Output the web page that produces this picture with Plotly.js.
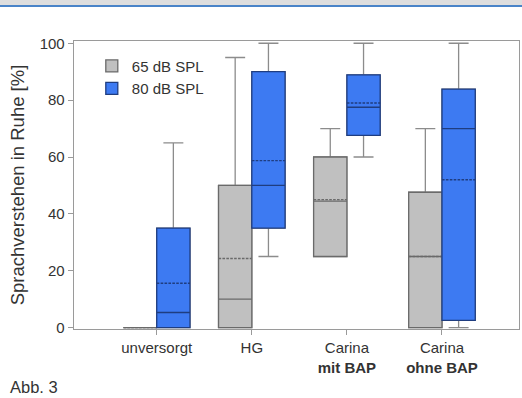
<!DOCTYPE html>
<html>
<head>
<meta charset="utf-8">
<script src="https://cdn.plot.ly/plotly-3.0.1.min.js"></script>
<style>html,body{margin:0;padding:0;background:#fff;}#chart{width:522px;height:398px;}</style>
</head>
<body>
<div id="chart"></div>
<script>
var categories = ["unversorgt", "HG", "Carina<br><b>mit BAP</b>", "Carina<br><b>ohne BAP</b>"];
var seriesNames = ["65 dB SPL", "80 dB SPL"];

// 65 dB SPL
var low65  = [0, 0, 25, 0];
var q1_65  = [0, 0, 25, 0];
var med65  = [0, 10, 44.5, 25];
var q3_65  = [0, 50, 60, 47.6];
var high65 = [0, 95, 70, 70];
var mean65 = [0, 24.3, 45, 25];

// 80 dB SPL
var low80  = [0, 25, 60, 0];
var q1_80  = [0, 35, 67.6, 2.5];
var med80  = [5.3, 50, 77.5, 70];
var q3_80  = [35, 90, 88.9, 83.9];
var high80 = [65, 100, 100, 100];
var mean80 = [15.6, 58.7, 79, 52];

var yTicks = [0, 20, 40, 60, 80, 100];

var font = "Arial, 'Liberation Sans', sans-serif";

function whiskerTrace(group, lo, q1, md, q3, hi) {
  return {
    type: "box", x: categories, q1: q1, median: md, q3: q3,
    lowerfence: lo, upperfence: hi,
    offsetgroup: group, showlegend: false, hoverinfo: "skip",
    line: {color: "#8c8c8c", width: 1.3},
    fillcolor: "rgba(0,0,0,0)", whiskerwidth: 0.6, boxpoints: false
  };
}
function boxTrace(group, name, q1, md, q3, mn, fill, lineColor) {
  return {
    type: "box", name: name, x: categories, q1: q1, median: md, q3: q3,
    lowerfence: q1, upperfence: q3, mean: mn, boxmean: true,
    offsetgroup: group, showlegend: true,
    line: {color: lineColor, width: 1.3},
    fillcolor: fill, whiskerwidth: 0, boxpoints: false
  };
}

var data = [
  whiskerTrace("g65", low65, q1_65, med65, q3_65, high65),
  whiskerTrace("g80", low80, q1_80, med80, q3_80, high80),
  boxTrace("g65", seriesNames[0], q1_65, med65, q3_65, mean65, "#c0c0c0", "#6a6a6a"),
  boxTrace("g80", seriesNames[1], q1_80, med80, q3_80, mean80, "#3d7af2", "#1f3d80")
];

var layout = {
  width: 522, height: 398,
  margin: {l: 74, r: 3, t: 41, b: 69},
  paper_bgcolor: "#ffffff", plot_bgcolor: "#ffffff",
  font: {family: font, size: 15, color: "#333333"},
  boxmode: "group", boxgap: 0.3, boxgroupgap: 0,
  showlegend: true,
  legend: {x: 0.04, y: 0.97, xanchor: "left", yanchor: "top", bgcolor: "rgba(0,0,0,0)",
           font: {family: font, size: 15, color: "#333333"}, tracegroupgap: 0},
  xaxis: {
    type: "category", range: [-0.87, 3.81],
    showline: true, linecolor: "#9a9a9a", linewidth: 1.3, mirror: true,
    ticks: "outside", ticklen: 5, tickcolor: "#9a9a9a",
    showgrid: false, zeroline: false,
    tickfont: {family: font, size: 15, color: "#333333"}
  },
  yaxis: {
    range: [-0.5, 100.8], tickvals: yTicks, ticktext: yTicks.map(String),
    showline: true, linecolor: "#9a9a9a", linewidth: 1.3, mirror: true,
    ticks: "outside", ticklen: 5, tickcolor: "#9a9a9a",
    showgrid: false, zeroline: false,
    tickfont: {family: font, size: 15, color: "#333333"},
    title: {text: "Sprachverstehen in Ruhe [%]", font: {family: font, size: 18.5, color: "#333333"}, standoff: 10}
  },
  shapes: [
    {type: "rect", xref: "paper", yref: "paper", x0: -0.2, x1: 1.02, y0: 1.125, y1: 1.16,
     fillcolor: "#dedede", line: {width: 0}},
    {type: "line", xref: "paper", yref: "paper", x0: -0.2, x1: 1.02, y0: 1.1215, y1: 1.1215,
     line: {color: "#4a84c8", width: 2}}
  ],
  annotations: [
    {text: "Abb. 3", xref: "paper", yref: "paper", x: -0.148, y: -0.2, xanchor: "left", yanchor: "middle",
     showarrow: false, font: {family: font, size: 16.5, color: "#333333"}}
  ]
};

Plotly.newPlot("chart", data, layout, {displayModeBar: false, staticPlot: true});
</script>
</body>
</html>
